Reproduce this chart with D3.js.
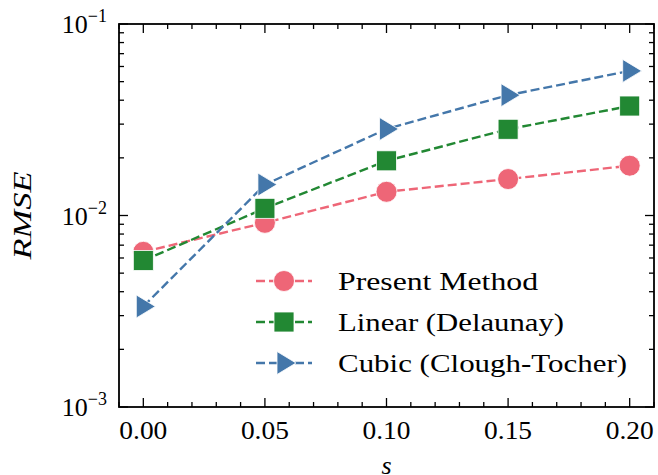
<!DOCTYPE html>
<html>
<head>
<meta charset="utf-8">
<script src="https://cdn.jsdelivr.net/npm/d3@7"></script>
<style>
  body { margin: 0; background: #fff; }
  text { font-family: "Liberation Serif", "DejaVu Serif", serif; fill: #000; }
</style>
</head>
<body>
<div id="chart"></div>
<script>
// data
var sValues = [0.00, 0.05, 0.10, 0.15, 0.20];
var presentMethod = [0.00646, 0.00916, 0.0133, 0.0155, 0.0182];
var linearDelaunay = [0.00582, 0.0109, 0.0193, 0.0282, 0.0373];
var cubicCloughTocher = [0.00335, 0.0145, 0.0283, 0.0425, 0.0569];
var seriesNames = ["Present Method", "Linear (Delaunay)", "Cubic (Clough-Tocher)"];
var xTicks = [0.00, 0.05, 0.10, 0.15, 0.20];
var yTicks = [1e-3, 1e-2, 1e-1];

var width = 658, height = 475;
var margin = {left: 119, right: 4, top: 24, bottom: 68};

var series = [
  {name: seriesNames[0], values: presentMethod, color: "#EE6677", marker: "circle", w: 200},
  {name: seriesNames[1], values: linearDelaunay, color: "#228833", marker: "square", w: 226},
  {name: seriesNames[2], values: cubicCloughTocher, color: "#4477AA", marker: "triangle", w: 289}
];

var svg = d3.select("#chart").append("svg")
    .attr("width", width)
    .attr("height", height);

var x = d3.scaleLinear().domain([-0.01, 0.21]).range([margin.left, width - margin.right]);
var y = d3.scaleLog().domain([1e-3, 1e-1]).range([height - margin.bottom, margin.top]);

var x0 = x.range()[0], x1 = x.range()[1], y0 = y.range()[0], y1 = y.range()[1];

// minor ticks
var xMinor = d3.range(-0.01, 0.2101, 0.01).filter(function(v){ return Math.abs(Math.round(v*100) % 5) !== 0; });
var yMinor = [];
[1e-3, 1e-2].forEach(function(d){ for (var k = 2; k <= 9; k++) yMinor.push(d*k); });

var ticks = svg.append("g").attr("stroke", "#000").attr("stroke-width", 1.3);
function tickX(v, len) {
  ticks.append("line").attr("x1", x(v)).attr("x2", x(v)).attr("y1", y0).attr("y2", y0 - len);
  ticks.append("line").attr("x1", x(v)).attr("x2", x(v)).attr("y1", y1).attr("y2", y1 + len);
}
function tickY(v, len) {
  ticks.append("line").attr("y1", y(v)).attr("y2", y(v)).attr("x1", x0).attr("x2", x0 + len);
  ticks.append("line").attr("y1", y(v)).attr("y2", y(v)).attr("x1", x1).attr("x2", x1 - len);
}
xTicks.forEach(function(v){ tickX(v, 9); });
xMinor.forEach(function(v){ tickX(v, 5); });
yTicks.forEach(function(v){ tickY(v, 9); });
yMinor.forEach(function(v){ tickY(v, 5); });

// frame
svg.append("rect")
  .attr("x", x0).attr("y", y1)
  .attr("width", x1 - x0).attr("height", y0 - y1)
  .attr("fill", "none").attr("stroke", "#000").attr("stroke-width", 1.8);

// tick labels
svg.append("g").selectAll("text").data(xTicks).enter().append("text")
  .attr("x", function(d){ return x(d); })
  .attr("y", y0 + 32)
  .attr("text-anchor", "middle")
  .style("font-size", "26px")
  .attr("textLength", 48).attr("lengthAdjust", "spacingAndGlyphs")
  .text(function(d){ return d3.format(".2f")(d); });

var yl = svg.append("g").selectAll("text").data(yTicks).enter().append("text")
  .attr("x", x0 - 12)
  .attr("y", function(d){ return y(d) + 9; })
  .attr("text-anchor", "end")
  .style("font-size", "26px");
yl.append("tspan").text("10");
yl.append("tspan").attr("dy", -11).style("font-size", "18px")
  .text(function(d){ return "\u2212" + Math.round(-Math.log10(d)); });

// axis labels
svg.append("text")
  .attr("transform", "translate(31," + ((y0 + y1) / 2) + ")rotate(-90)")
  .attr("text-anchor", "middle")
  .style("font-size", "26px").style("font-style", "italic")
  .attr("textLength", 88).attr("lengthAdjust", "spacingAndGlyphs")
  .text("RMSE");
svg.append("text")
  .attr("x", (x0 + x1) / 2).attr("y", 474)
  .attr("text-anchor", "middle")
  .style("font-size", "26px").style("font-style", "italic")
  .text("s");

// markers
function drawMarker(g, type, cx, cy, color) {
  if (type === "circle") {
    g.append("circle").attr("cx", cx).attr("cy", cy).attr("r", 10.5)
      .attr("fill", color).attr("stroke", "#fff").attr("stroke-width", 0.8);
  } else if (type === "square") {
    g.append("rect").attr("x", cx - 10).attr("y", cy - 10).attr("width", 20).attr("height", 20)
      .attr("fill", color).attr("stroke", "#fff").attr("stroke-width", 0.8);
  } else {
    g.append("path").attr("d", "M" + (cx + 12) + "," + cy + "L" + (cx - 7) + "," + (cy - 11.5) + "L" + (cx - 7) + "," + (cy + 11.5) + "Z")
      .attr("fill", color).attr("stroke", "#fff").attr("stroke-width", 0.8);
  }
}

var line = d3.line()
  .x(function(d, i){ return x(sValues[i]); })
  .y(function(d){ return y(d); });

var plot = svg.append("g");
series.forEach(function(s) {
  var g = plot.append("g");
  g.append("path").datum(s.values)
    .attr("d", line)
    .attr("fill", "none")
    .attr("stroke", s.color)
    .attr("stroke-width", 2.4)
    .attr("stroke-dasharray", "9,4");
  s.values.forEach(function(v, i){ drawMarker(g, s.marker, x(sValues[i]), y(v), s.color); });
});

// legend
var legend = svg.append("g");
series.forEach(function(s, i) {
  var ly = 281 + i * 41;
  legend.append("line").attr("x1", 256).attr("x2", 312).attr("y1", ly).attr("y2", ly)
    .attr("stroke", s.color).attr("stroke-width", 2.4).attr("stroke-dasharray", "9,4");
  drawMarker(legend, s.marker, 284, ly, s.color);
  legend.append("text").attr("x", 338).attr("y", ly + 9)
    .style("font-size", "26px")
    .attr("textLength", s.w).attr("lengthAdjust", "spacingAndGlyphs")
    .text(s.name);
});
</script>
</body>
</html>
